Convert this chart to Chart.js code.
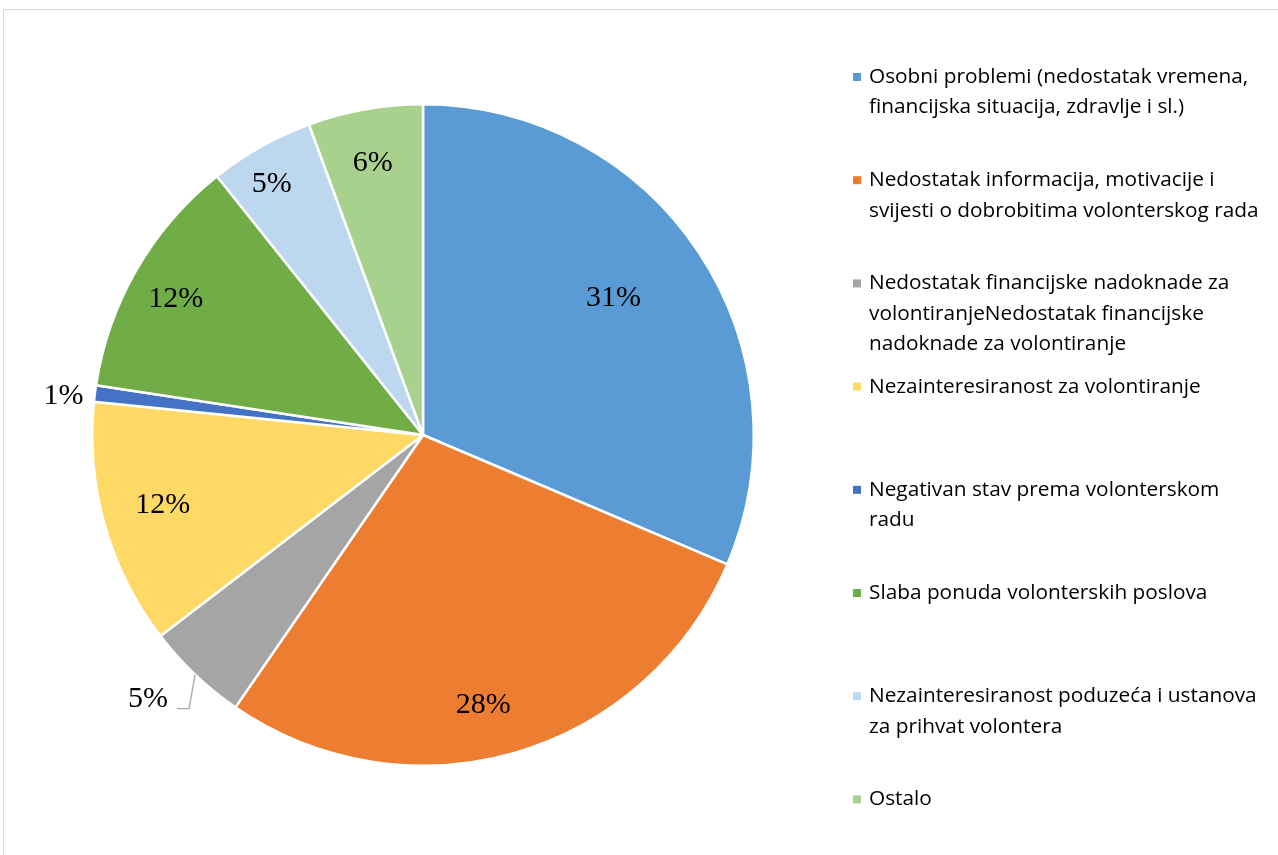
<!DOCTYPE html>
<html>
<head>
<meta charset="utf-8">
<script src="https://cdn.jsdelivr.net/npm/chart.js@4/dist/chart.umd.min.js"></script>
<style>
  html, body { margin: 0; padding: 0; background: #fff; overflow: hidden; }
  #frame { position: absolute; left: 3px; top: 9px; width: 1400px; height: 1000px; border: 1px solid #d9d9d9; box-sizing: border-box; }
  #wrap { position: absolute; left: 0; top: 0; width: 1278px; height: 855px; }
</style>
</head>
<body>
<div id="frame"></div>
<div id="wrap"><canvas id="c" width="1278" height="855"></canvas></div>
<script>
const categories = [
  "Osobni problemi (nedostatak vremena,\nfinancijska situacija, zdravlje i sl.)",
  "Nedostatak informacija, motivacije i\nsvijesti o dobrobitima volonterskog rada",
  "Nedostatak financijske nadoknade za\nvolontiranjeNedostatak financijske\nnadoknade za volontiranje",
  "Nezainteresiranost za volontiranje",
  "Negativan stav prema volonterskom\nradu",
  "Slaba ponuda volonterskih poslova",
  "Nezainteresiranost poduzeća i ustanova\nza prihvat volontera",
  "Ostalo"
];
const values = [31.4, 28.2, 5.0, 12.0, 0.8, 11.9, 5.1, 5.6];
const colors = ["#5B9BD5", "#ED7D31", "#A5A5A5", "#FFD966", "#4472C4", "#70AD47", "#BDD7EE", "#A9D18E"];

// label placement style: radius factor (relative to outer radius) and angle nudge in degrees; null = outside with leader
const labelRadius = [0.71, 0.836, null, 0.815, 1.093, 0.853, 0.885, 0.836];
const labelNudge = [-2.3, 3.6, 0, 0.7, -1.0, -1.3, -1.8, -0.4];

const total = values.reduce((a, b) => a + b, 0);

const pctLabels = {
  id: 'pctLabels',
  afterDatasetsDraw(chart) {
    const ctx = chart.ctx;
    const meta = chart.getDatasetMeta(0);
    ctx.save();
    ctx.font = '30px "Liberation Serif", "Times New Roman", serif';
    ctx.fillStyle = '#000';
    ctx.textBaseline = 'middle';
    meta.data.forEach((arc, i) => {
      const p = arc.getProps(['x', 'y', 'startAngle', 'endAngle', 'outerRadius'], true);
      const mid = (p.startAngle + p.endAngle) / 2;
      const txt = Math.round(values[i] / total * 100) + '%';
      const rf = labelRadius[i];
      if (rf === null) {
        const ex = p.x + Math.cos(mid) * p.outerRadius;
        const ey = p.y + Math.sin(mid) * p.outerRadius;
        const bx = ex - 6, by = ey + 34;
        const hx = bx - 12;
        ctx.strokeStyle = '#a6a6a6';
        ctx.lineWidth = 1.3;
        ctx.beginPath();
        ctx.moveTo(ex, ey);
        ctx.lineTo(bx, by);
        ctx.lineTo(hx, by);
        ctx.stroke();
        ctx.textAlign = 'right';
        ctx.fillText(txt, hx - 9, by - 10);
      } else {
        ctx.textAlign = 'center';
        const a = mid + labelNudge[i] * Math.PI / 180;
        const r = p.outerRadius * rf;
        ctx.fillText(txt, p.x + Math.cos(a) * r, p.y + Math.sin(a) * r);
      }
    });
    ctx.restore();
  }
};

const sideLegend = {
  id: 'sideLegend',
  afterDraw(chart) {
    const ctx = chart.ctx;
    ctx.save();
    ctx.font = '20.8px "Open Sans", Lato, sans-serif';
    ctx.textBaseline = 'middle';
    ctx.textAlign = 'left';
    const x0 = 853, tx = 869, y0 = 77, step = 103.2, lh = 30.5;
    chart.data.labels.forEach((lab, i) => {
      const y = y0 + i * step;
      ctx.fillStyle = colors[i];
      ctx.fillRect(x0, y - 4, 8, 8);
      ctx.fillStyle = '#000';
      lab.split('\n').forEach((line, j) => ctx.fillText(line, tx, y + j * lh));
    });
    ctx.restore();
  }
};

new Chart(document.getElementById('c'), {
  type: 'pie',
  data: {
    labels: categories,
    datasets: [{
      data: values,
      backgroundColor: colors,
      borderColor: '#ffffff',
      borderWidth: 2.5
    }]
  },
  options: {
    responsive: false,
    animation: false,
    layout: { padding: { left: 91, right: 523, top: 103, bottom: 88 } },
    plugins: { legend: { display: false }, tooltip: { enabled: false } }
  },
  plugins: [pctLabels, sideLegend]
});
</script>
</body>
</html>
